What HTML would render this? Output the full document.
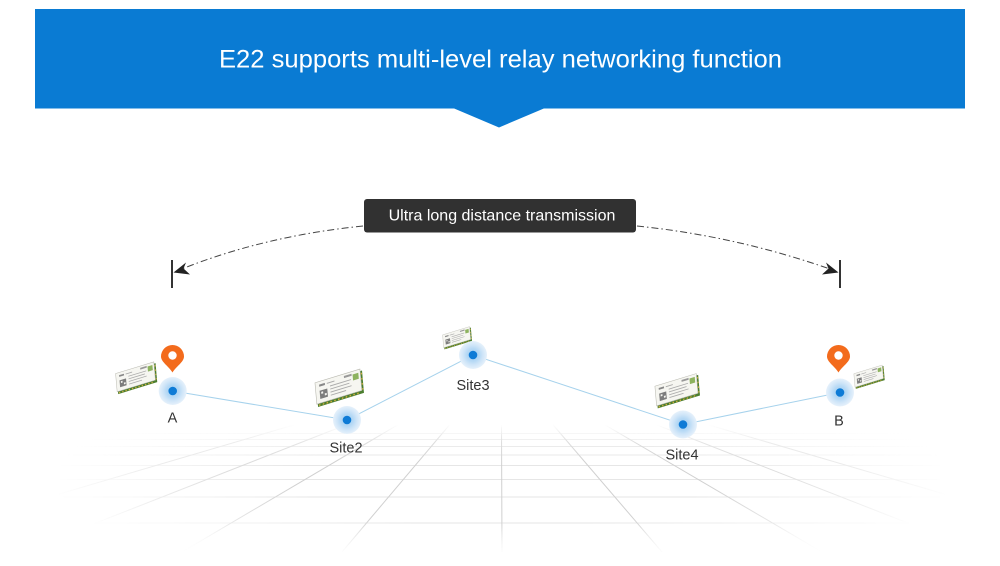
<!DOCTYPE html>
<html>
<head>
<meta charset="utf-8">
<style>
  html, body { margin: 0; padding: 0; background: #ffffff; }
  body { width: 1000px; height: 566px; overflow: hidden; }
  svg { display: block; }
  text { font-family: "Liberation Sans", Arial, sans-serif; }
</style>
</head>
<body>
<svg width="1000" height="566" viewBox="0 0 1000 566" xmlns="http://www.w3.org/2000/svg">
  <defs>
    <radialGradient id="fadeGrad" gradientUnits="userSpaceOnUse" cx="0" cy="0" r="1" gradientTransform="translate(502,480) scale(450,105)">
      <stop offset="0" stop-color="#ffffff"/>
      <stop offset="0.45" stop-color="#ffffff"/>
      <stop offset="1" stop-color="#000000"/>
    </radialGradient>
    <linearGradient id="vFade" gradientUnits="userSpaceOnUse" x1="0" y1="424" x2="0" y2="556">
      <stop offset="0" stop-color="#000000"/>
      <stop offset="0.14" stop-color="#bbbbbb"/>
      <stop offset="0.3" stop-color="#ffffff"/>
      <stop offset="0.75" stop-color="#ffffff"/>
      <stop offset="1" stop-color="#000000"/>
    </linearGradient>
    <mask id="gridMask" maskUnits="userSpaceOnUse" x="0" y="0" width="1000" height="566">
      <rect x="0" y="0" width="1000" height="566" fill="url(#fadeGrad)"/>
    </mask>
    <mask id="vMask" maskUnits="userSpaceOnUse" x="0" y="0" width="1000" height="566">
      <rect x="0" y="0" width="1000" height="566" fill="url(#vFade)"/>
    </mask>
    <g id="chip">
      <rect x="-23" y="-10" width="48" height="22" fill="#4b7e2f"/>
      <rect x="-24" y="-12" width="47" height="21" fill="#f6f6f1" stroke="#b9b9b0" stroke-width="0.6"/>
      <g fill="#d3ad3f">
        <rect x="-22" y="10" width="1.6" height="1.4"/>
        <rect x="-18" y="10" width="1.6" height="1.4"/>
        <rect x="-14" y="10" width="1.6" height="1.4"/>
        <rect x="-10" y="10" width="1.6" height="1.4"/>
        <rect x="-6" y="10" width="1.6" height="1.4"/>
        <rect x="-2" y="10" width="1.6" height="1.4"/>
        <rect x="2" y="10" width="1.6" height="1.4"/>
        <rect x="6" y="10" width="1.6" height="1.4"/>
        <rect x="10" y="10" width="1.6" height="1.4"/>
        <rect x="14" y="10" width="1.6" height="1.4"/>
        <rect x="18" y="10" width="1.6" height="1.4"/>
        <rect x="23.5" y="-8" width="1.2" height="1.6"/>
        <rect x="23.5" y="-3" width="1.2" height="1.6"/>
        <rect x="23.5" y="2" width="1.2" height="1.6"/>
        <rect x="23.5" y="7" width="1.2" height="1.6"/>
      </g>
      <rect x="-20" y="-3" width="8" height="8" fill="#7d7d7d"/>
      <rect x="-18.5" y="-1.5" width="2" height="2" fill="#f6f6f1"/>
      <rect x="-15" y="1" width="2" height="2" fill="#f6f6f1"/>
      <rect x="-20" y="-9" width="6" height="2" fill="#888"/>
      <rect x="-12" y="-8.5" width="8" height="1" fill="#aaa"/>
      <rect x="-9" y="-5" width="22" height="0.9" fill="#aaa"/>
      <rect x="-9" y="-2" width="20" height="0.9" fill="#aaa"/>
      <rect x="-9" y="1" width="22" height="0.9" fill="#aaa"/>
      <rect x="-9" y="4" width="16" height="0.9" fill="#aaa"/>
      <rect x="6" y="-10" width="8" height="2" fill="#999"/>
      <rect x="15" y="-9" width="6" height="6" fill="#8db35f"/>
    </g>
    <radialGradient id="halo" cx="0.5" cy="0.5" r="0.5">
      <stop offset="0" stop-color="#9ccbf1"/>
      <stop offset="0.45" stop-color="#b6d9f5"/>
      <stop offset="0.7" stop-color="#cfe5f8"/>
      <stop offset="1" stop-color="#e6f1fb"/>
    </radialGradient>
    <g id="node">
      <circle cx="0" cy="0" r="14" fill="url(#halo)"/>
      <circle cx="0" cy="0" r="4.3" fill="#0e7bd6"/>
    </g>
    <g id="pin">
      <path d="M0,15.5 C-3.5,9.5 -11.5,5 -11.5,-0.5 A11.5,11.5 0 1 1 11.5,-0.5 C11.5,5 3.5,9.5 0,15.5 Z" fill="#f36b1c"/>
      <circle cx="0" cy="-1.5" r="4.2" fill="#ffffff"/>
    </g>
  </defs>

  <!-- Header banner -->
  <rect x="35" y="9" width="930" height="99.5" fill="#0a7bd3"/>
  <polygon points="453,108 545,108 499,127.5" fill="#0a7bd3"/>
  <text x="500.5" y="67.5" font-size="25" fill="#ffffff" text-anchor="middle" textLength="563" lengthAdjust="spacingAndGlyphs">E22 supports multi-level relay networking function</text>

  <!-- Ground grid -->
  <g mask="url(#gridMask)">
    <g mask="url(#vMask)">
      <g stroke="#e6e6e6" stroke-width="1" fill="none">
        <line x1="60" y1="433.5" x2="940" y2="433.5"/>
        <line x1="60" y1="439.5" x2="940" y2="439.5"/>
        <line x1="60" y1="446.5" x2="940" y2="446.5"/>
        <line x1="60" y1="455" x2="940" y2="455"/>
        <line x1="60" y1="465.5" x2="940" y2="465.5"/>
        <line x1="60" y1="479.5" x2="940" y2="479.5"/>
        <line x1="60" y1="497" x2="940" y2="497"/>
        <line x1="60" y1="523" x2="940" y2="523"/>
      </g>
      <g stroke="#d0d0d0" stroke-width="1" fill="none">
        <line x1="293.6" y1="425" x2="-138" y2="552"/>
        <line x1="345.6" y1="425" x2="22" y2="552"/>
        <line x1="397.5" y1="425" x2="182" y2="552"/>
        <line x1="449.4" y1="425" x2="342" y2="552"/>
        <line x1="501.5" y1="425" x2="502" y2="552"/>
        <line x1="553.2" y1="425" x2="662" y2="552"/>
        <line x1="605.2" y1="425" x2="822" y2="552"/>
        <line x1="657.1" y1="425" x2="982" y2="552"/>
        <line x1="709" y1="425" x2="1142" y2="552"/>
      </g>
    </g>
  </g>

  <!-- Long distance arcs -->
  <g fill="none" stroke="#444" stroke-width="1" stroke-dasharray="7 3 1.5 3">
    <path d="M363,226 Q265,236 183,268.5"/>
    <path d="M637,226 Q735,236 828.5,268.5"/>
  </g>
  <path d="M173.5,272.5 L186,262.5 L183.5,268.5 L190,274.5 Z" fill="#222"/>
  <path d="M838.5,272.5 L826,262.5 L828.5,268.5 L822,274.5 Z" fill="#222"/>
  <line x1="172" y1="260" x2="172" y2="288" stroke="#333" stroke-width="2"/>
  <line x1="840" y1="260" x2="840" y2="288" stroke="#333" stroke-width="2"/>

  <!-- Label box -->
  <rect x="364" y="199" width="272" height="33.5" rx="3" ry="3" fill="#313131"/>
  <text x="502" y="220.5" font-size="16" fill="#ffffff" text-anchor="middle">Ultra long distance transmission</text>

  <!-- Relay links -->
  <polyline points="172.7,391 347,420 473,355 683,424.5 840,392.5" fill="none" stroke="#a6d2ec" stroke-width="1"/>

  <!-- Chips -->
  <use href="#chip" transform="translate(136,378) rotate(-17) skewX(-12) scale(0.85)"/>
  <use href="#chip" transform="translate(339,388) rotate(-17) skewX(-12) scale(1.0)"/>
  <use href="#chip" transform="translate(457,338) rotate(-17) skewX(-12) scale(0.6)"/>
  <use href="#chip" transform="translate(677,391) rotate(-17) skewX(-12) scale(0.92)"/>
  <use href="#chip" transform="translate(869,377) rotate(-17) skewX(-12) scale(0.63)"/>

  <!-- Nodes -->
  <use href="#node" transform="translate(172.7,391)"/>
  <use href="#node" transform="translate(347,420)"/>
  <use href="#node" transform="translate(473,355)"/>
  <use href="#node" transform="translate(683,424.5)"/>
  <use href="#node" transform="translate(840,392.5)"/>

  <!-- Pins -->
  <use href="#pin" transform="translate(172.5,357)"/>
  <use href="#pin" transform="translate(838.5,357)"/>

  <!-- Labels -->
  <g font-size="14.5" fill="#333333" text-anchor="middle">
    <text x="172.5" y="422.5">A</text>
    <text x="346" y="452.5">Site2</text>
    <text x="473" y="390">Site3</text>
    <text x="682" y="459.5">Site4</text>
    <text x="839" y="425.5">B</text>
  </g>
</svg>
</body>
</html>
